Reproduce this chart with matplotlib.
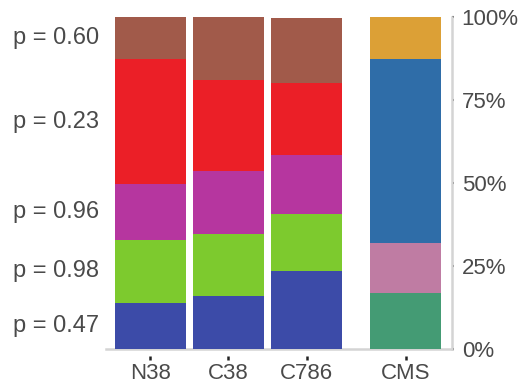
import matplotlib
matplotlib.use("Agg")
import matplotlib.pyplot as plt
import matplotlib.transforms as mtransforms
import numpy as np

plt.rcParams['font.family'] = ['Liberation Sans', 'DejaVu Sans']

# Composition (percent), bottom to top
categories = ["N38", "C38", "C786", "CMS"]
n38 = [13.9, 19.0, 16.7, 37.7, 12.7]
c38 = [16.0, 18.7, 19.0, 27.2, 19.1]
c786 = [23.6, 17.2, 17.5, 21.8, 19.6]
cms = [16.9, 15.1, 55.3, 12.7]
p_values = ["0.47", "0.98", "0.96", "0.23", "0.60"]

sample_colors = ["#3C4BA8", "#7DCA2E", "#B6369F", "#EB1F27", "#A15A4A"]
cms_colors = ["#449B74", "#BF7CA3", "#2F6DA8", "#DCA036"]

positions = [0, 1, 2, 3.27]
width = 0.91
text_color = "#4a4a4a"
spine_color = "#d4d4d4"

fig = plt.figure(figsize=(5.19, 3.86), dpi=100)
ax = fig.add_axes([106 / 519, (386 - 349) / 386, (452 - 106) / 519, (349 - 17) / 386])

for pos, vals in zip(positions[:3], [n38, c38, c786]):
    bottom = 0.0
    for v, c in zip(vals, sample_colors):
        ax.bar(pos, v / 100, width=width, bottom=bottom / 100, color=c, linewidth=0, zorder=2)
        bottom += v

bottom = 0.0
for v, c in zip(cms, cms_colors):
    ax.bar(positions[3], v / 100, width=width, bottom=bottom / 100, color=c, linewidth=0, zorder=2)
    bottom += v

# p-value labels beside the N38 segments
blend = mtransforms.blended_transform_factory(ax.transAxes, ax.transData)
cum = np.cumsum([0] + n38)
for i, p in enumerate(p_values):
    mid = (cum[i] + cum[i + 1]) / 2 / 100
    ax.annotate(f"p = {p}", xy=(0, mid), xycoords=blend, xytext=(-7, 0),
                textcoords="offset pixels", ha="right", va="center",
                fontsize=17, color=text_color)

ax.set_xlim(-0.57, 3.865)
ax.set_ylim(0, 1)

# Axis styling
ax.spines["top"].set_visible(False)
ax.spines["left"].set_visible(False)
ax.spines["right"].set_color(spine_color)
ax.spines["right"].set_linewidth(1.8)
ax.spines["bottom"].set_position(("outward", 6.5 * 72 / 100))
ax.spines["bottom"].set_visible(False)
ax.axhline(0, color=spine_color, linewidth=1.8, zorder=1, clip_on=False)

ax.yaxis.tick_right()
ax.set_yticks([0, 0.25, 0.5, 0.75, 1.0])
ax.set_yticklabels(["0%", "25%", "50%", "75%", "100%"])
ax.tick_params(axis="y", which="both", direction="out", length=1.5, width=1.5,
               color="#222222", pad=5.5, labelsize=16, labelcolor=text_color,
               left=False, right=True)

ax.set_xticks(positions)
ax.set_xticklabels(categories)
ax.tick_params(axis="x", direction="out", length=3, width=1.8, color="#222222",
               pad=2.5, labelsize=16, labelcolor=text_color)

fig.savefig("out.png", dpi=100)
